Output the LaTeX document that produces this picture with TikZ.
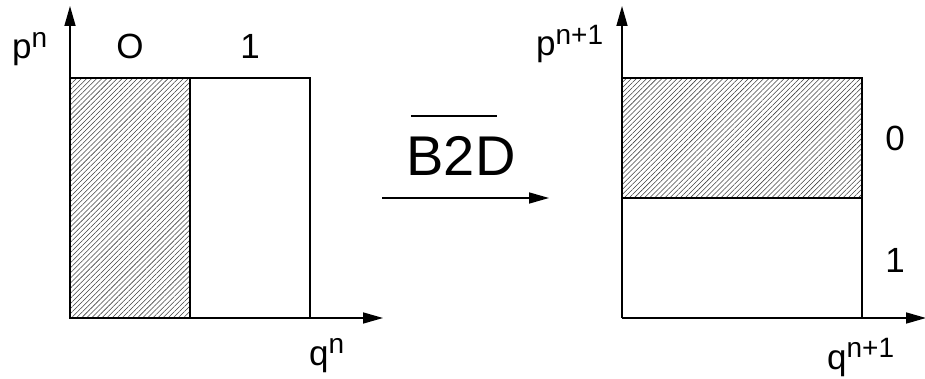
\documentclass[tikz,border=0pt]{standalone}
\usepackage{fontspec}
\setmainfont{Liberation Sans}
\usetikzlibrary{patterns.meta,arrows.meta}
\newcommand{\supx}[1]{\raisebox{0.33em}{\fontsize{28}{28}\selectfont #1}}
\begin{document}
\begin{tikzpicture}[x=1pt,y=-1pt,
  font=\fontsize{35}{35}\selectfont,
  axis/.style={line width=1.6pt,-{Triangle[length=20pt,width=11pt]}},
  box/.style={line width=1.8pt},
  thinbox/.style={line width=1.2pt},
  hatch/.style={pattern={Lines[angle=45,distance=3.6pt,line width=0.55pt]},pattern color=black!75},
  lbl/.style={inner sep=0pt}]
\useasboundingbox (0,0) rectangle (925,379);
% ---------- left diagram ----------
\coordinate (O1) at (70,318);
\coordinate (Y1) at (70,6);
\coordinate (X1) at (383,318);
\path[hatch] (70,78) rectangle (190,318);
\draw[box] (70,78) rectangle (190,318);
\draw[thinbox] (190,78) -- (310,78) -- (310,318);
\draw[axis] (O1) -- (Y1);
\draw[axis] (O1) -- (X1);
\node[lbl,anchor=base west] (pn) at (12,59) {p\supx{n}};
\node[lbl,anchor=base] (l0) at (130,59) {O};
\node[lbl,anchor=base] (l1) at (250,59) {1};
\node[lbl,anchor=base west] (qn) at (309,365) {q\supx{n}};
% ---------- transform arrow ----------
\coordinate (A1) at (382,198);
\coordinate (A2) at (549,198);
\draw[axis] (A1) -- (A2);
\node[lbl,anchor=base,font=\fontsize{56}{56}\selectfont] (b2d) at (461,176) {B2D};
\draw[line width=2pt] ([xshift=4.5pt,yshift=21pt]b2d.north west) -- ([xshift=-18.5pt,yshift=21pt]b2d.north east);
% ---------- right diagram ----------
\coordinate (O2) at (622,318);
\coordinate (Y2) at (622,6);
\coordinate (X2) at (926,318);
\path[hatch] (622,78) rectangle (862,198);
\draw[box] (622,78) rectangle (862,198);
\draw[thinbox] (862,198) -- (862,318);
\draw[axis] (O2) -- (Y2);
\draw[axis] (O2) -- (X2);
\node[lbl,anchor=base west] (pn1) at (536,56) {p\supx{n+1}};
\node[lbl,anchor=base] (r0) at (895,151) {0};
\node[lbl,anchor=base] (r1) at (895,272) {1};
\node[lbl,anchor=base west] (qn1) at (827,369) {q\supx{n+1}};
\end{tikzpicture}
\end{document}
